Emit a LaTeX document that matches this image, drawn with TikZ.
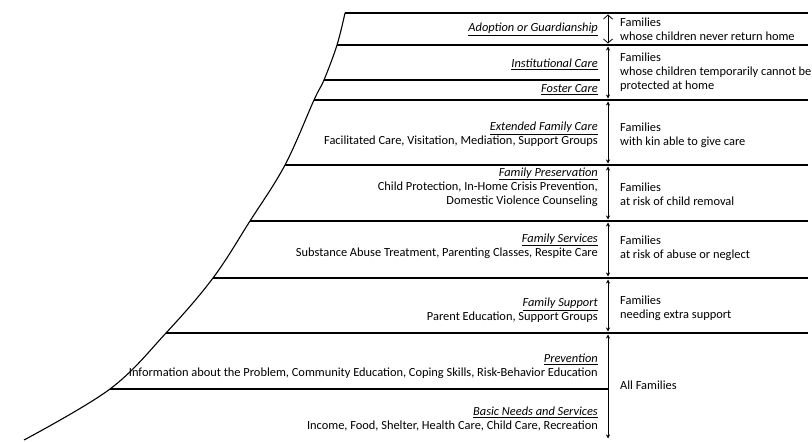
\documentclass[tikz,border=0pt]{standalone}
\usepackage{fontspec}
\setmainfont{Carlito}
\usetikzlibrary{arrows.meta}
\newcommand{\tiername}[1]{\underline{\textit{#1}}}

\begin{document}
\begin{tikzpicture}[x=1pt, y=-1pt, font=\fontsize{12.4}{14}\selectfont,
  every node/.style={inner sep=0pt},
  tier/.style={anchor=east, align=right},
  who/.style={anchor=west, align=left},
  rule/.style={line width=1.1pt},
  span/.style={{Stealth[length=4pt,width=4pt]}-{Stealth[length=4pt,width=4pt]}, line width=0.9pt, shorten <=1.5pt, shorten >=1.5pt},
  topspan/.style={{Straight Barb[length=4pt,width=9pt]}-{Straight Barb[length=4pt,width=9pt]}, line width=0.8pt, shorten <=1.5pt, shorten >=1.5pt}]
  \useasboundingbox (0,0) rectangle (812,442);

  % left edge of the pyramid
  \coordinate (c0) at (345,13);
  \coordinate (c1) at (337,45);
  \coordinate (c2) at (324,80);
  \coordinate (c3) at (314,100);
  \coordinate (c4) at (285,165);
  \coordinate (c5) at (250,221);
  \coordinate (c6) at (213,278);
  \coordinate (c7) at (166,333);
  \coordinate (c8) at (110,389);
  \coordinate (c9) at (24,440);
  \draw[rule] plot[smooth, tension=0.6] coordinates {(c0) (c1) (c2) (c3) (c4) (c5) (c6) (c7) (c8) (c9)};

  % tier boundaries
  \draw[rule] (c0) -- (808,13);
  \draw[rule] (c1) -- (808,45);
  \draw[rule] (c2) -- (600,80);
  \draw[rule] (c3) -- (808,100);
  \draw[rule] (c4) -- (808,165);
  \draw[rule] (c5) -- (808,221);
  \draw[rule] (c6) -- (808,278);
  \draw[rule] (c7) -- (808,333);
  \draw[rule] (c8) -- (608,389);

  % services
  \node[tier] (adopt) at (598,29) {\tiername{Adoption or Guardianship}};
  \node[tier] (inst) at (598,64) {\tiername{Institutional Care}};
  \node[tier] (foster) at (598,90) {\tiername{Foster Care}};
  \node[tier] (kin) at (598,134) {\tiername{Extended Family Care}\\Facilitated Care, Visitation, Mediation, Support Groups};
  \node[tier] (preserve) at (598,187) {\tiername{Family Preservation}\\Child Protection, In-Home Crisis Prevention,\\Domestic Violence Counseling};
  \node[tier] (services) at (598,246) {\tiername{Family Services}\\Substance Abuse Treatment, Parenting Classes, Respite Care};
  \node[tier] (support) at (598,310) {\tiername{Family Support}\\Parent Education, Support Groups};
  \node[tier] (prevent) at (598,366) {\tiername{Prevention}\\Information about the Problem, Community Education, Coping Skills, Risk-Behavior Education};
  \node[tier] (basic) at (598,419) {\tiername{Basic Needs and Services}\\Income, Food, Shelter, Health Care, Child Care, Recreation};

  % who is served
  \node[who] (adoptwho) at (620,29) {Families\\whose children never return home};
  \node[who] (carewho) at (620,72) {Families\\whose children temporarily cannot be\\protected at home};
  \node[who] (kinwho) at (620,135) {Families\\with kin able to give care};
  \node[who] (preservewho) at (620,194) {Families\\at risk of child removal};
  \node[who] (serviceswho) at (620,248) {Families\\at risk of abuse or neglect};
  \node[who] (supportwho) at (620,308) {Families\\needing extra support};
  \node[who] (allwho) at (620,385) {All Families};

  % ranges
  \coordinate (g0) at (608,13);
  \coordinate (g1) at (608,45);
  \coordinate (g2) at (608,100);
  \coordinate (g3) at (608,165);
  \coordinate (g4) at (608,221);
  \coordinate (g5) at (608,278);
  \coordinate (g6) at (608,333);
  \coordinate (g7) at (608,440);
  \draw[topspan] (g0) -- (g1);
  \draw[span] (g1) -- (g2);
  \draw[span] (g2) -- (g3);
  \draw[span] (g3) -- (g4);
  \draw[span] (g4) -- (g5);
  \draw[span] (g5) -- (g6);
  \draw[span] (g6) -- (g7);
\end{tikzpicture}
\end{document}
